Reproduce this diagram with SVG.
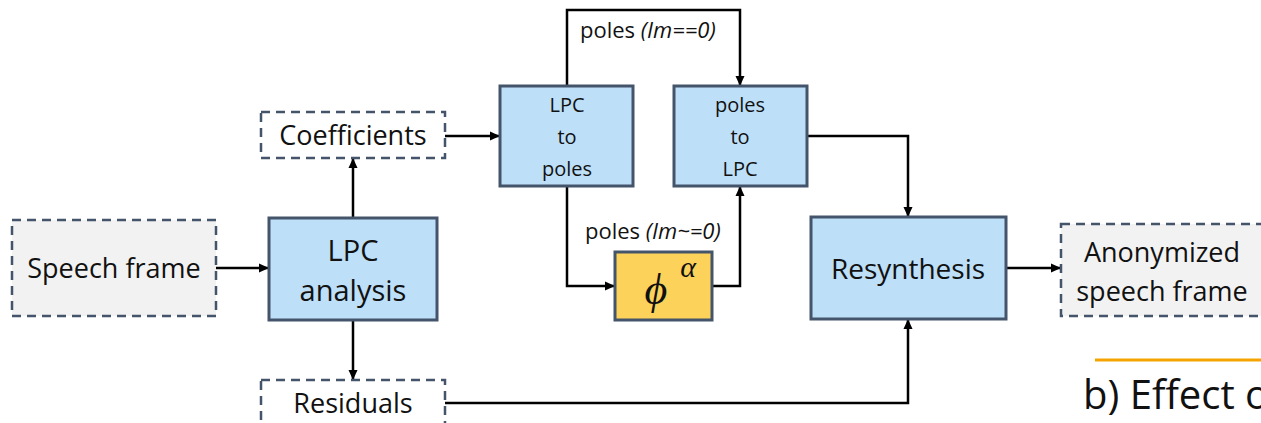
<svg xmlns="http://www.w3.org/2000/svg" width="1261" height="423" viewBox="0 0 1261 423">
  <style>
    .blk { fill: #bddff8; stroke: #44546a; stroke-width: 3; }
    .io { fill: #f2f2f2; stroke: #44546a; stroke-width: 2.5; stroke-dasharray: 9 6; }
    .io-w { fill: #ffffff; stroke: #44546a; stroke-width: 2.5; stroke-dasharray: 9 6; }
    .op { fill: #fcd25a; stroke: #44546a; stroke-width: 3; }
    .t { font-family: "Open Sans", "Liberation Sans", sans-serif; fill: #111; text-anchor: middle; }
    .lbl { font-family: "Open Sans", "Liberation Sans", sans-serif; fill: #111; font-size: 22px; }
    .wire { fill: none; stroke: #000; stroke-width: 2.5; }
  </style>
  <defs>
    <marker id="ah" markerWidth="10" markerHeight="10" refX="9" refY="5" orient="auto" markerUnits="userSpaceOnUse">
      <path d="M0,0.5 L10,5 L0,9.5 Z" fill="#000"/>
    </marker>
  </defs>
  <rect width="1261" height="423" fill="#ffffff"/>

  <g id="connectors">
    <path class="wire" d="M216,268 L268,268" marker-end="url(#ah)"/>
    <path class="wire" d="M353,218 L353,159" marker-end="url(#ah)"/>
    <path class="wire" d="M353,320 L353,379" marker-end="url(#ah)"/>
    <path class="wire" d="M445,136 L499,136" marker-end="url(#ah)"/>
    <path class="wire" d="M567,86 L567,10 L740,10 L740,85" marker-end="url(#ah)"/>
    <path class="wire" d="M567,186 L567,286 L614,286" marker-end="url(#ah)"/>
    <path class="wire" d="M712,286 L740,286 L740,187" marker-end="url(#ah)"/>
    <path class="wire" d="M807,136 L908,136 L908,216" marker-end="url(#ah)"/>
    <path class="wire" d="M445,403 L908,403 L908,320" marker-end="url(#ah)"/>
    <path class="wire" d="M1006,268 L1060,268" marker-end="url(#ah)"/>
    <text class="lbl" x="580" y="38">poles <tspan font-style="italic">(Im==0)</tspan></text>
    <text class="lbl" x="585" y="239">poles <tspan font-style="italic">(Im~=0)</tspan></text>
  </g>

  <g id="speech-frame">
    <rect class="io" x="12" y="220" width="204" height="96"/>
    <text class="t" x="114" y="278" font-size="27">Speech frame</text>
  </g>

  <g id="lpc-analysis">
    <rect class="blk" x="269" y="218" width="168" height="102"/>
    <text class="t" x="353" y="261" font-size="29">LPC</text>
    <text class="t" x="353" y="301" font-size="29">analysis</text>
  </g>

  <g id="coefficients">
    <rect class="io-w" x="261" y="112" width="184" height="46"/>
    <text class="t" x="353" y="145" font-size="27">Coefficients</text>
  </g>

  <g id="residuals">
    <rect class="io-w" x="261" y="380" width="184" height="46"/>
    <text class="t" x="353" y="413" font-size="27">Residuals</text>
  </g>

  <g id="lpc-to-poles">
    <rect class="blk" x="500" y="86" width="133" height="100"/>
    <text class="t" x="567" y="112" font-size="20">LPC</text>
    <text class="t" x="567" y="144" font-size="20">to</text>
    <text class="t" x="567" y="176" font-size="20">poles</text>
  </g>

  <g id="poles-to-lpc">
    <rect class="blk" x="674" y="86" width="133" height="100"/>
    <text class="t" x="740" y="112" font-size="20">poles</text>
    <text class="t" x="740" y="144" font-size="20">to</text>
    <text class="t" x="740" y="176" font-size="20">LPC</text>
  </g>

  <g id="warp">
    <rect class="op" x="615" y="252" width="97" height="68"/>
    <text x="656" y="304" font-family="Liberation Serif, DejaVu Serif, serif" font-style="italic" font-size="44" text-anchor="middle" fill="#111">ϕ</text>
    <text x="688" y="277" font-family="Liberation Serif, DejaVu Serif, serif" font-style="italic" font-size="30" text-anchor="middle" fill="#111">α</text>
  </g>

  <g id="resynthesis">
    <rect class="blk" x="811" y="217" width="195" height="102"/>
    <text class="t" x="908" y="279" font-size="28">Resynthesis</text>
  </g>

  <g id="anonymized">
    <rect class="io" x="1061" y="224" width="210" height="92"/>
    <text class="t" x="1162" y="262" font-size="27">Anonymized</text>
    <text class="t" x="1162" y="301" font-size="27">speech frame</text>
  </g>

  <g id="caption">
    <line x1="1095" y1="360" x2="1261" y2="360" stroke="#f5a300" stroke-width="3"/>
    <text x="1083" y="409" font-family="Open Sans, Liberation Sans, sans-serif" font-size="40" fill="#111">b) Effect o</text>
  </g>
</svg>
